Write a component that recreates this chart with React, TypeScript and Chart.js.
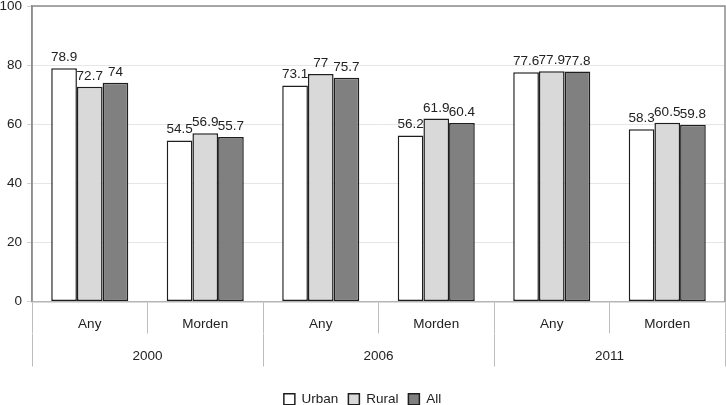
import React, { useEffect, useRef } from "react";
import { Chart, registerables } from "chart.js";

Chart.register(...registerables);

const categories = ["Any", "Morden", "Any", "Morden", "Any", "Morden"];
const years = ["2000", "2006", "2011"];
const urban = [78.9, 54.5, 73.1, 56.2, 77.6, 58.3];
const rural = [72.7, 56.9, 77, 61.9, 77.9, 60.5];
const all = [74, 55.7, 75.7, 60.4, 77.8, 59.8];
const yTicks = [0, 20, 40, 60, 80, 100];

const FONT = "'Liberation Sans', Arial, Helvetica, sans-serif";
const FS = 13.5;

const plotBorder = {
  id: "plotBorder",
  beforeDatasetsDraw(chart: any) {
    const { ctx, chartArea } = chart;
    ctx.save();
    ctx.strokeStyle = "#8c8c8c";
    ctx.lineWidth = 1.5;
    ctx.beginPath();
    ctx.moveTo(chartArea.left, chartArea.bottom);
    ctx.lineTo(chartArea.left, chartArea.top);
    ctx.lineTo(chartArea.right, chartArea.top);
    ctx.lineTo(chartArea.right, chartArea.bottom);
    ctx.stroke();
    ctx.restore();
  },
};

const valueLabels = {
  id: "valueLabels",
  afterDatasetsDraw(chart: any) {
    const { ctx } = chart;
    ctx.save();
    ctx.font = `${FS}px ${FONT}`;
    ctx.fillStyle = "#222";
    ctx.textAlign = "center";
    ctx.textBaseline = "alphabetic";
    chart.data.datasets.forEach((ds: any, di: number) => {
      const meta = chart.getDatasetMeta(di);
      meta.data.forEach((bar: any, i: number) => {
        ctx.fillText(String(ds.data[i]), bar.x, bar.y - 7);
      });
    });
    ctx.restore();
  },
};

export default function App() {
  const ref = useRef<HTMLCanvasElement>(null);
  useEffect(() => {
    if (!ref.current) return;
    const common = {
      borderColor: "#1e1e1e",
      borderWidth: 1.5,
      borderSkipped: false,
      categoryPercentage: 0.667,
      barPercentage: 1,
    };
    const chart = new Chart(ref.current, {
      type: "bar",
      data: {
        labels: categories,
        datasets: [
          { label: "Urban", data: urban, backgroundColor: "#ffffff", ...common },
          { label: "Rural", data: rural, backgroundColor: "#d9d9d9", ...common },
          { label: "All", data: all, backgroundColor: "#808080", ...common },
        ],
      },
      options: {
        animation: false,
        responsive: true,
        maintainAspectRatio: false,
        layout: { padding: { top: 6, right: 1, left: 0, bottom: 0 } },
        font: { family: FONT, size: FS },
        plugins: {
          legend: {
            position: "bottom",
            labels: {
              font: { family: FONT, size: FS },
              color: "#222",
              boxWidth: 11,
              boxHeight: 11,
              padding: 10,
            },
          },
          tooltip: { enabled: false },
        },
        scales: {
          y: {
            min: 0,
            max: 100,
            afterBuildTicks: (s: any) => {
              s.ticks = yTicks.map((v) => ({ value: v }));
            },
            afterFit: (s: any) => {
              s.width = 32;
              s.paddingTop = 0;
              s.paddingBottom = 0;
            },
            ticks: { font: { family: FONT, size: FS }, color: "#222", padding: 5 },
            grid: { color: "#e6e6e6", lineWidth: 1, tickLength: 5, tickColor: "#d0d0d0" },
            border: { display: true, color: "#8c8c8c", width: 1.5 },
          },
          x: {
            type: "category",
            position: "bottom",
            weight: 0,
            offset: true,
            afterFit: (s: any) => {
              s.height = 32;
            },
            ticks: { font: { family: FONT, size: FS }, color: "#222", padding: -17, maxRotation: 0 },
            grid: { offset: true, drawOnChartArea: false, tickLength: 32, color: "#bdbdbd", lineWidth: 1 },
            border: { display: true, color: "#b5b5b5", width: 1.5 },
          },
          x2: {
            type: "category",
            position: "bottom",
            weight: 1,
            labels: years,
            offset: true,
            afterFit: (s: any) => {
              s.height = 49;
            },
            ticks: { font: { family: FONT, size: FS }, color: "#222", padding: -18, maxRotation: 0 },
            grid: { offset: true, drawOnChartArea: false, tickLength: 33, color: "#bdbdbd", lineWidth: 1 },
            border: { display: false },
          },
        },
      } as any,
      plugins: [plotBorder, valueLabels],
    });
    return () => chart.destroy();
  }, []);
  return (
    <div style={{ position: "absolute", left: 0, top: 0, width: 726, height: 405, overflow: "hidden", background: "#fff" }}>
      <div style={{ position: "relative", width: 726, height: 416 }}>
        <canvas ref={ref} />
      </div>
    </div>
  );
}
